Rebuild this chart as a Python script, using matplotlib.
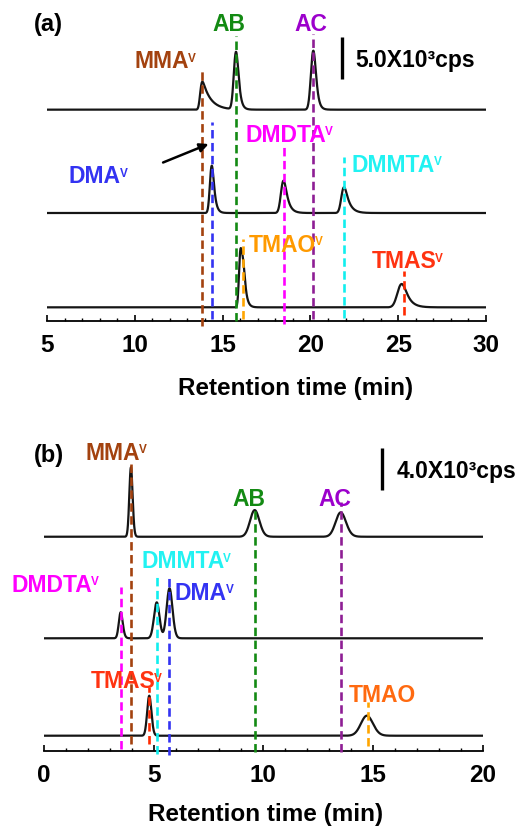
import numpy as np
import matplotlib
matplotlib.use('Agg')
import matplotlib.pyplot as plt
from matplotlib.ticker import MultipleLocator

plt.rcParams['font.family'] = ['Liberation Sans', 'DejaVu Sans']
plt.rcParams['font.weight'] = 'bold'

W, H, DPI = 528, 828, 100

# ---------------- data: panel (a) ----------------
# trace 1 (standards MMA / AB / AC)
a1_names = ['MMA', 'AB', 'AC']
a1_rt = [13.85, 15.77, 20.17]
a1_height = [3360, 6890, 7080]
a1_sigma = [0.08, 0.11, 0.12]
a1_tail = [0.45, 0.12, 0.12]
# trace 2 (DMA / DMDTA / DMMTA)
a2_names = ['DMA', 'DMDTA', 'DMMTA']
a2_rt = [14.38, 18.47, 21.92]
a2_height = [5680, 3880, 3100]
a2_sigma = [0.09, 0.12, 0.12]
a2_tail = [0.12, 0.20, 0.25]
# trace 3 (TMAO, with shoulder / TMAS)
a3_names = ['TMAO', 'TMAO', 'TMAS']
a3_rt = [16.00, 16.17, 25.20]
a3_height = [5800, 4800, 2800]
a3_sigma = [0.07, 0.08, 0.20]
a3_tail = [0.05, 0.12, 0.30]

# marker lines (a): retention time of each species
a_line_names = ['MMA', 'DMA', 'AB', 'AC', 'DMDTA', 'DMMTA', 'TMAO', 'TMAS']
a_line_rt = [13.85, 14.38, 15.77, 20.17, 18.47, 21.92, 16.15, 25.35]

# ---------------- data: panel (b) ----------------
b1_names = ['MMA', 'AB', 'AC']
b1_rt = [3.96, 9.61, 13.53]
b1_height = [6720, 2580, 2360]
b1_sigma = [0.07, 0.20, 0.22]
b1_tail = [0.03, 0.08, 0.10]
b2_names = ['DMDTA', 'DMMTA', 'DMA']
b2_rt = [3.50, 5.14, 5.72]
b2_height = [2520, 3480, 4840]
b2_sigma = [0.08, 0.125, 0.125]
b2_tail = [0.05, 0.0, 0.05]
b3_names = ['TMAS', 'TMAO']
b3_rt = [4.80, 14.72]
b3_height = [3870, 1940]
b3_sigma = [0.09, 0.26]
b3_tail = [0.04, 0.10]

b_line_names = ['MMA', 'AB', 'AC', 'DMDTA', 'DMMTA', 'DMA', 'TMAS', 'TMAO']
b_line_rt = [3.96, 9.61, 13.53, 3.50, 5.14, 5.72, 4.80, 14.79]

x_ticks_a = [5, 10, 15, 20, 25, 30]
x_ticks_b = [0, 5, 10, 15, 20]
scale_a = 5000
scale_b = 4000

# ---------------- layout (positions / styles) ----------------
a_offsets = [25360, 12960, 1640]
b_offsets = [20740, 10910, 1480]
a_line_top = [30360, 23840, 34240, 34440, 20840, 19640, 9840, 6040]
a_line_bot = [-600, 240, 0, 240, -360, 320, 240, 720]
b_line_top = [28100, 23590, 24070, 15850, 16810, 16970, 6170, 4710]
b_line_bot = [680, -130, -130, 190, -290, -390, 680, 510]

line_col = {'MMA': '#A3420F', 'AB': '#138A13', 'AC': '#8E1E94', 'DMA': '#3333F2',
            'DMDTA': '#FF00FF', 'DMMTA': '#11EEEE', 'TMAO': '#FFA500', 'TMAS': '#FF2A00'}
text_col = dict(line_col)
text_col['AC'] = '#9C00CC'
text_col['DMMTA'] = '#22F2F2'
text_col['TMAO'] = '#FF9A00'
text_col['TMAO_b'] = '#FF6A10'
text_col['TMAS'] = '#FF3311'

fig = plt.figure(figsize=(W / DPI, H / DPI), dpi=DPI)
axA = fig.add_axes([47 / W, 1 - 322 / H, 439 / W, 312 / H])
axB = fig.add_axes([44 / W, 1 - 752 / H, 438.7 / W, 312 / H])

tA = np.linspace(5, 30, 3001)
tB = np.linspace(0, 20, 3001)


def emg(t, c, h, s, tau):
    g = np.exp(-0.5 * ((t - c) / s) ** 2)
    if tau > 0:
        dt = t[1] - t[0]
        k = np.exp(-np.arange(0, 10 * tau, dt) / tau)
        y = np.convolve(g, k)[:len(t)]
        shift = np.argmax(y) - np.argmin(np.abs(t - c))
        y = np.roll(y, -shift)
    else:
        y = g
    return h * y / y.max()


def trace(t, rts, hs, ss, taus):
    y = np.zeros_like(t)
    for c, h, s, tau in zip(rts, hs, ss, taus):
        y += emg(t, c, h, s, tau)
    return y


trace_kw = dict(color='#151515', lw=1.6, zorder=2, solid_joinstyle='round')
axA.plot(tA, trace(tA, a1_rt, a1_height, a1_sigma, a1_tail) + a_offsets[0], **trace_kw)
axA.plot(tA, trace(tA, a2_rt, a2_height, a2_sigma, a2_tail) + a_offsets[1], **trace_kw)
axA.plot(tA, trace(tA, a3_rt, a3_height, a3_sigma, a3_tail) + a_offsets[2], **trace_kw)
axB.plot(tB, trace(tB, b1_rt, b1_height, b1_sigma, b1_tail) + b_offsets[0], **trace_kw)
axB.plot(tB, trace(tB, b2_rt, b2_height, b2_sigma, b2_tail) + b_offsets[1], **trace_kw)
axB.plot(tB, trace(tB, b3_rt, b3_height, b3_sigma, b3_tail) + b_offsets[2], **trace_kw)

dash = (0, (3.2, 1.7))
for n, x, y0, y1 in zip(a_line_names, a_line_rt, a_line_bot, a_line_top):
    axA.plot([x, x], [y0, y1], color=line_col[n], lw=1.9, ls=dash, zorder=3, clip_on=False)
for n, x, y0, y1 in zip(b_line_names, b_line_rt, b_line_bot, b_line_top):
    axB.plot([x, x], [y0, y1], color=line_col[n], lw=1.9, ls=dash, zorder=3, clip_on=False)

axA.set_xlim(5, 30)
axA.set_ylim(0, 312 * 120)
axB.set_xlim(0, 20)
axB.set_ylim(0, 312 * 96.8)

for ax, ticks in ((axA, x_ticks_a), (axB, x_ticks_b)):
    for s in ('left', 'right', 'top'):
        ax.spines[s].set_visible(False)
    ax.spines['bottom'].set_linewidth(1.3)
    ax.set_yticks([])
    ax.set_xticks(ticks)
    ax.set_xticklabels([str(v) for v in ticks])
    ax.xaxis.set_minor_locator(MultipleLocator(1))
    ax.tick_params(axis='x', which='major', direction='in', length=4.5, width=1.2,
                   labelsize=17.5, pad=8.5)
    ax.tick_params(axis='x', which='minor', direction='in', length=2.2, width=1.0)
    for lb in ax.get_xticklabels():
        lb.set_fontweight('bold')
    ax.patch.set_alpha(0)

fig.text(296 / W, 1 - 395 / H, 'Retention time (min)', ha='center', va='baseline',
         fontsize=17.5, fontweight='bold')
fig.text(266 / W, 1 - 821 / H, 'Retention time (min)', ha='center', va='baseline',
         fontsize=17.5, fontweight='bold')

renderer = fig.canvas.get_renderer()


def label(ax, x, y, base, sup, color, size=16.5, supsize=8.5):
    txt = ax.text(x, y, base, color=color, fontsize=size, fontweight='bold',
                  va='baseline', ha='left', zorder=5)
    if sup:
        bb = txt.get_window_extent(renderer)
        bx, by = ax.transData.transform((x, y))
        cap = 0.716 * size * DPI / 72
        vcap = 0.716 * supsize * DPI / 72
        fig.text((bb.x1 - 1.5) / W, (by + cap - 1.2 - vcap) / H, sup, color=color,
                 fontsize=supsize, fontweight='bold', va='baseline', ha='left')


# panel (a) labels
label(axA, 4.24, 34960, '(a)', '', 'black', size=17)
label(axA, 14.40, 34960, 'AB', '', text_col['AB'])
label(axA, 19.10, 34960, 'AC', '', text_col['AC'])
label(axA, 9.99, 30440, 'MMA', 'V', text_col['MMA'])
label(axA, 16.32, 21640, 'DMDTA', 'V', text_col['DMDTA'])
label(axA, 22.36, 18040, 'DMMTA', 'V', text_col['DMMTA'])
label(axA, 6.25, 16640, 'DMA', 'V', text_col['DMA'])
label(axA, 16.51, 8440, 'TMAO', 'V', text_col['TMAO'])
label(axA, 23.51, 6440, 'TMAS', 'V', text_col['TMAS'])
axA.annotate('', xy=(14.20, 21240), xytext=(11.61, 19020),
             arrowprops=dict(arrowstyle='-|>', color='black', lw=1.8, mutation_scale=13,
                             shrinkA=0, shrinkB=0), zorder=5)
axA.plot([21.78, 21.78], [34040, 34040 - scale_a], color='black', lw=2.4, solid_capstyle='butt')
axA.text(22.54, 30640, '5.0X10\u00b3cps', fontsize=16.5, fontweight='bold', va='baseline', ha='left')

# panel (b) labels
label(axB, -0.47, 28100, '(b)', '', 'black', size=17)
label(axB, 1.91, 28270, 'MMA', 'V', text_col['MMA'])
label(axB, 8.59, 23810, 'AB', '', text_col['AB'])
label(axB, 12.50, 23810, 'AC', '', text_col['AC'])
label(axB, 4.44, 17780, 'DMMTA', 'V', text_col['DMMTA'])
label(axB, -1.47, 15520, 'DMDTA', 'V', text_col['DMDTA'])
label(axB, 5.97, 14710, 'DMA', 'V', text_col['DMA'])
label(axB, 2.14, 6170, 'TMAS', 'V', text_col['TMAS'])
label(axB, 13.89, 4870, 'TMAO', '', text_col['TMAO_b'])
axB.plot([15.43, 15.43], [29300, 29300 - scale_b], color='black', lw=2.4, solid_capstyle='butt')
axB.text(16.08, 26490, '4.0X10\u00b3cps', fontsize=16.5, fontweight='bold', va='baseline', ha='left')

fig.savefig('out.png', dpi=DPI)
